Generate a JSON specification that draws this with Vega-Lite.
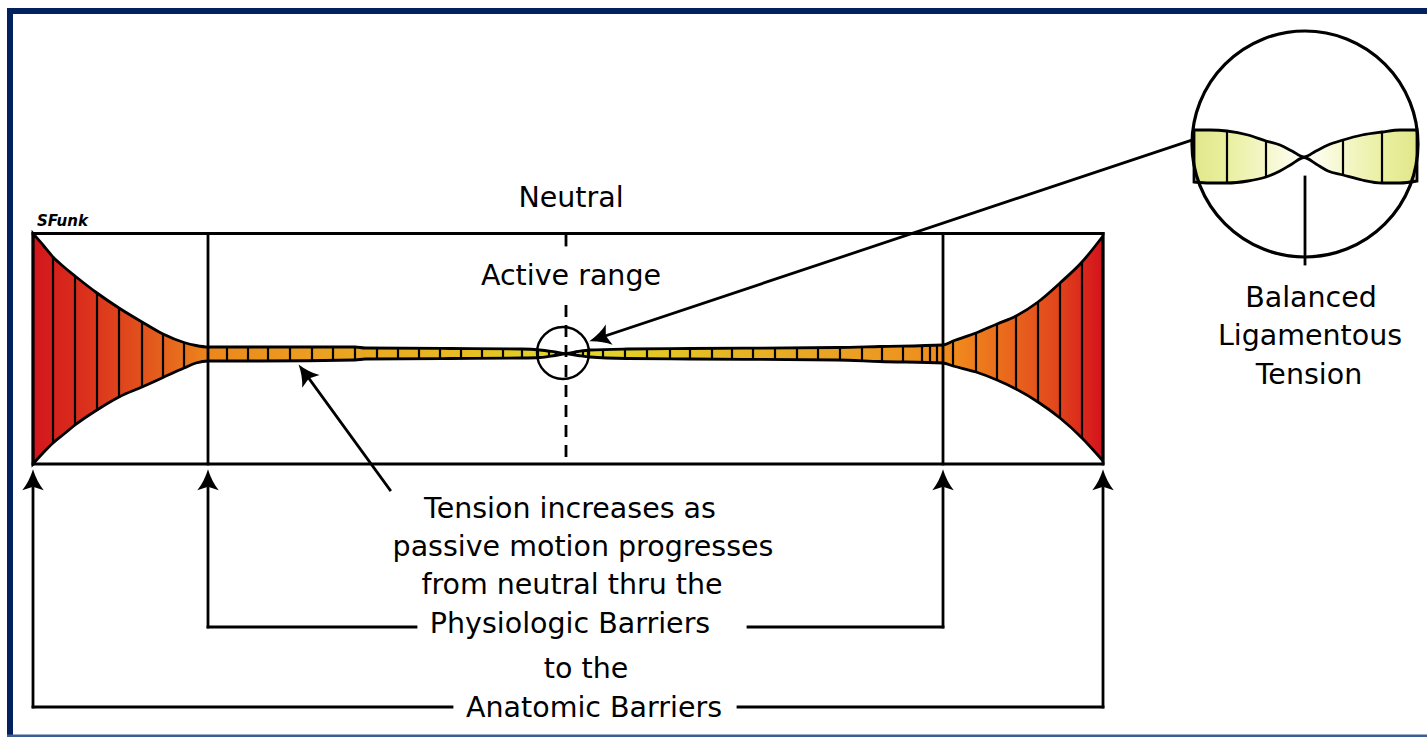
{
  "$schema": "https://vega.github.io/schema/vega-lite/v6.json",
  "width": 1427,
  "height": 737,
  "autosize": {"type": "fit", "contains": "padding"},
  "padding": 0,
  "background": "white",
  "config": {"view": {"stroke": null}},
  "datasets": {
    "navy": [
      {"x": 7, "x2": 1427, "y": 8, "y2": 14},
      {"x": 7, "x2": 13, "y": 8, "y2": 737}
    ],
    "navyBottom": [
      {"x": 7, "x2": 1427, "y": 734.5, "y2": 737}
    ],
    "band": [
      {"x": 33, "top": 233.5, "bottom": 464},
      {"x": 43, "top": 245, "bottom": 453},
      {"x": 53, "top": 257, "bottom": 443},
      {"x": 64, "top": 267, "bottom": 434},
      {"x": 75, "top": 276, "bottom": 425},
      {"x": 97, "top": 293, "bottom": 410},
      {"x": 119, "top": 308, "bottom": 397},
      {"x": 142, "top": 322, "bottom": 387},
      {"x": 163, "top": 334, "bottom": 377.5},
      {"x": 184, "top": 342.5, "bottom": 368},
      {"x": 196, "top": 345.5, "bottom": 363},
      {"x": 208, "top": 347, "bottom": 361},
      {"x": 260, "top": 347, "bottom": 361},
      {"x": 355, "top": 347, "bottom": 360},
      {"x": 365, "top": 348, "bottom": 359},
      {"x": 450, "top": 348.5, "bottom": 358.5},
      {"x": 522, "top": 349, "bottom": 358},
      {"x": 540, "top": 350, "bottom": 357.5},
      {"x": 555, "top": 352, "bottom": 355.5},
      {"x": 566, "top": 353.6, "bottom": 353.8},
      {"x": 578, "top": 351.5, "bottom": 355.5},
      {"x": 590, "top": 350, "bottom": 357},
      {"x": 627, "top": 349, "bottom": 358.5},
      {"x": 690, "top": 348.5, "bottom": 359},
      {"x": 837, "top": 347.5, "bottom": 360},
      {"x": 880, "top": 346.5, "bottom": 361.5},
      {"x": 943, "top": 345, "bottom": 363},
      {"x": 953, "top": 341, "bottom": 366},
      {"x": 976, "top": 333, "bottom": 372},
      {"x": 997, "top": 324, "bottom": 380},
      {"x": 1016, "top": 316, "bottom": 389},
      {"x": 1038, "top": 302, "bottom": 402},
      {"x": 1060, "top": 283, "bottom": 418},
      {"x": 1082, "top": 262, "bottom": 438},
      {"x": 1103, "top": 236, "bottom": 461}
    ],
    "mag": [
      {"x": 1194, "top": 130, "bottom": 182},
      {"x": 1210, "top": 130, "bottom": 183},
      {"x": 1227, "top": 131, "bottom": 183},
      {"x": 1248, "top": 135, "bottom": 181},
      {"x": 1266, "top": 141, "bottom": 177},
      {"x": 1280, "top": 145, "bottom": 171},
      {"x": 1292, "top": 151, "bottom": 164},
      {"x": 1304, "top": 157, "bottom": 157.5},
      {"x": 1316, "top": 151, "bottom": 164},
      {"x": 1328, "top": 145, "bottom": 171},
      {"x": 1343, "top": 140, "bottom": 175},
      {"x": 1362, "top": 135, "bottom": 180},
      {"x": 1382, "top": 132, "bottom": 183},
      {"x": 1400, "top": 130, "bottom": 183},
      {"x": 1417, "top": 130, "bottom": 181}
    ],
    "lines": [
      {"x": 33, "x2": 1103, "y": 233.5, "y2": 233.5},
      {"x": 33, "x2": 1103, "y": 464, "y2": 464},
      {"x": 33, "x2": 33, "y": 233.5, "y2": 464},
      {"x": 1103, "x2": 1103, "y": 233.5, "y2": 464},
      {"x": 208, "x2": 208, "y": 233.5, "y2": 464},
      {"x": 943, "x2": 943, "y": 233.5, "y2": 464},
      {"x": 566, "x2": 566, "y": 233.5, "y2": 245},
      {"x": 33, "x2": 33, "y": 488, "y2": 707},
      {"x": 33, "x2": 452, "y": 707, "y2": 707},
      {"x": 738, "x2": 1103, "y": 707, "y2": 707},
      {"x": 1103, "x2": 1103, "y": 707, "y2": 488},
      {"x": 208, "x2": 208, "y": 488, "y2": 627},
      {"x": 208, "x2": 416, "y": 627, "y2": 627},
      {"x": 748, "x2": 943, "y": 627, "y2": 627},
      {"x": 943, "x2": 943, "y": 627, "y2": 488},
      {"x": 390, "x2": 305, "y": 490, "y2": 373},
      {"x": 599, "x2": 1192, "y": 338, "y2": 140},
      {"x": 1305, "x2": 1305, "y": 177, "y2": 264}
    ],
    "dash": [
      {"x": 566, "x2": 566, "y": 305, "y2": 464}
    ],
    "dividers": [
      {"x": 53, "y": 257, "y2": 443},
      {"x": 75, "y": 276, "y2": 425},
      {"x": 97, "y": 293, "y2": 410},
      {"x": 119, "y": 308, "y2": 397},
      {"x": 142, "y": 322, "y2": 387},
      {"x": 163, "y": 334, "y2": 377.5},
      {"x": 184, "y": 342.5, "y2": 368},
      {"x": 227, "y": 347, "y2": 361},
      {"x": 248, "y": 347, "y2": 361},
      {"x": 268, "y": 347, "y2": 361},
      {"x": 290, "y": 347, "y2": 361},
      {"x": 312, "y": 347, "y2": 361},
      {"x": 333, "y": 347, "y2": 360},
      {"x": 355, "y": 347, "y2": 360},
      {"x": 377, "y": 348, "y2": 359},
      {"x": 398, "y": 348, "y2": 359},
      {"x": 419, "y": 348, "y2": 359},
      {"x": 440, "y": 348, "y2": 359},
      {"x": 461, "y": 348.5, "y2": 358.5},
      {"x": 482, "y": 348.5, "y2": 358.5},
      {"x": 503, "y": 349, "y2": 358},
      {"x": 522, "y": 349, "y2": 358},
      {"x": 538, "y": 350, "y2": 357.5},
      {"x": 549, "y": 351, "y2": 356.5},
      {"x": 556, "y": 352, "y2": 355.5},
      {"x": 575, "y": 352, "y2": 355},
      {"x": 583, "y": 351, "y2": 356},
      {"x": 588, "y": 350.5, "y2": 356.5},
      {"x": 603, "y": 349.5, "y2": 357.5},
      {"x": 625, "y": 349, "y2": 358.5},
      {"x": 647, "y": 349, "y2": 358.5},
      {"x": 670, "y": 348.5, "y2": 359},
      {"x": 690, "y": 348.5, "y2": 359},
      {"x": 712, "y": 348, "y2": 359.5},
      {"x": 732, "y": 348, "y2": 359.5},
      {"x": 753, "y": 348, "y2": 359.5},
      {"x": 775, "y": 348, "y2": 359.5},
      {"x": 797, "y": 348, "y2": 359.5},
      {"x": 818, "y": 348, "y2": 359.5},
      {"x": 840, "y": 347, "y2": 360.5},
      {"x": 862, "y": 346.5, "y2": 361},
      {"x": 882, "y": 346.5, "y2": 361.5},
      {"x": 903, "y": 346, "y2": 362},
      {"x": 922, "y": 345.5, "y2": 362.5},
      {"x": 930, "y": 345.5, "y2": 362.5},
      {"x": 937, "y": 345, "y2": 363},
      {"x": 953, "y": 341, "y2": 366},
      {"x": 976, "y": 333, "y2": 372},
      {"x": 997, "y": 324, "y2": 380},
      {"x": 1016, "y": 316, "y2": 389},
      {"x": 1038, "y": 302, "y2": 402},
      {"x": 1060, "y": 283, "y2": 418},
      {"x": 1082, "y": 262, "y2": 438},
      {"x": 1227, "y": 131, "y2": 183},
      {"x": 1266, "y": 141, "y2": 177},
      {"x": 1343, "y": 140, "y2": 175},
      {"x": 1382, "y": 132, "y2": 183}
    ],
    "smallCircle": [{"x": 563, "y": 353}],
    "bigCircle": [{"x": 1305, "y": 144}],
    "arrows": [
      {"x": 33, "y": 480, "angle": 0},
      {"x": 208, "y": 480, "angle": 0},
      {"x": 943, "y": 480, "angle": 0},
      {"x": 1103, "y": 480, "angle": 0},
      {"x": 304.9, "y": 373.1, "angle": 324},
      {"x": 599.5, "y": 337.8, "angle": 251.5}
    ],
    "labels": [
      {"text": "Neutral", "x": 571, "y": 207},
      {"text": "Active range", "x": 571, "y": 285},
      {"text": "Balanced", "x": 1311, "y": 307},
      {"text": "Ligamentous", "x": 1310, "y": 345},
      {"text": "Tension", "x": 1309, "y": 384},
      {"text": "Tension increases as", "x": 570, "y": 518},
      {"text": "passive motion progresses", "x": 583, "y": 556},
      {"text": "from neutral thru the", "x": 572, "y": 594},
      {"text": "Physiologic Barriers", "x": 570, "y": 633},
      {"text": "to the", "x": 586, "y": 678},
      {"text": "Anatomic Barriers", "x": 594, "y": 717}
    ],
    "signature": [{"text": "SFunk", "x": 37, "y": 226}]
  },
  "layer": [
    {
      "data": {"name": "navy"},
      "mark": {"type": "rect", "color": "#02215e"},
      "encoding": {
        "x": {"field": "x", "type": "quantitative", "scale": {"domain": [0, 1427], "nice": false, "zero": false}, "axis": null},
        "x2": {"field": "x2"},
        "y": {"field": "y", "type": "quantitative", "scale": {"domain": [0, 737], "nice": false, "zero": false, "reverse": true}, "axis": null},
        "y2": {"field": "y2"}
      }
    },
    {
      "data": {"name": "navyBottom"},
      "mark": {"type": "rect", "color": "#3d5d94"},
      "encoding": {
        "x": {"field": "x", "type": "quantitative"},
        "x2": {"field": "x2"},
        "y": {"field": "y", "type": "quantitative"},
        "y2": {"field": "y2"}
      }
    },
    {
      "data": {"name": "band"},
      "mark": {
        "type": "area",
        "interpolate": "monotone",
        "stroke": "#000000",
        "strokeWidth": 2.8,
        "fill": {
          "gradient": "linear", "x1": 0, "y1": 0, "x2": 1, "y2": 0,
          "stops": [
            {"offset": 0, "color": "#d2161c"},
            {"offset": 0.044, "color": "#da2e1c"},
            {"offset": 0.091, "color": "#e04a1c"},
            {"offset": 0.128, "color": "#e6661c"},
            {"offset": 0.164, "color": "#ec861c"},
            {"offset": 0.25, "color": "#eb9c20"},
            {"offset": 0.362, "color": "#e8b222"},
            {"offset": 0.455, "color": "#e4cc24"},
            {"offset": 0.498, "color": "#e6dc2a"},
            {"offset": 0.549, "color": "#e2d026"},
            {"offset": 0.658, "color": "#e6b424"},
            {"offset": 0.78, "color": "#ec9c22"},
            {"offset": 0.864, "color": "#f0881c"},
            {"offset": 0.908, "color": "#ea6a1c"},
            {"offset": 0.955, "color": "#e2481c"},
            {"offset": 1, "color": "#d4121c"}
          ]
        }
      },
      "encoding": {
        "x": {"field": "x", "type": "quantitative"},
        "y": {"field": "top", "type": "quantitative"},
        "y2": {"field": "bottom"}
      }
    },
    {
      "data": {"name": "mag"},
      "mark": {
        "type": "area",
        "interpolate": "monotone",
        "stroke": "#000000",
        "strokeWidth": 2.8,
        "fill": {
          "gradient": "linear", "x1": 0, "y1": 0, "x2": 1, "y2": 0,
          "stops": [
            {"offset": 0, "color": "#e0e78a"},
            {"offset": 0.15, "color": "#e9ef9f"},
            {"offset": 0.32, "color": "#f4f7c8"},
            {"offset": 0.47, "color": "#fefef2"},
            {"offset": 0.53, "color": "#fefef2"},
            {"offset": 0.68, "color": "#f4f7c8"},
            {"offset": 0.85, "color": "#e9ef9f"},
            {"offset": 1, "color": "#e0e78a"}
          ]
        }
      },
      "encoding": {
        "x": {"field": "x", "type": "quantitative"},
        "y": {"field": "top", "type": "quantitative"},
        "y2": {"field": "bottom"}
      }
    },
    {
      "data": {"name": "dividers"},
      "mark": {"type": "rule", "color": "#000000", "strokeWidth": 2.2},
      "encoding": {
        "x": {"field": "x", "type": "quantitative"},
        "y": {"field": "y", "type": "quantitative"},
        "y2": {"field": "y2"}
      }
    },
    {
      "data": {"name": "lines"},
      "mark": {"type": "rule", "color": "#000000", "strokeWidth": 2.8, "strokeCap": "square"},
      "encoding": {
        "x": {"field": "x", "type": "quantitative"},
        "x2": {"field": "x2"},
        "y": {"field": "y", "type": "quantitative"},
        "y2": {"field": "y2"}
      }
    },
    {
      "data": {"name": "dash"},
      "mark": {"type": "rule", "color": "#000000", "strokeWidth": 2.8, "strokeDash": [12, 8]},
      "encoding": {
        "x": {"field": "x", "type": "quantitative"},
        "x2": {"field": "x2"},
        "y": {"field": "y", "type": "quantitative"},
        "y2": {"field": "y2"}
      }
    },
    {
      "data": {"name": "smallCircle"},
      "mark": {"type": "point", "shape": "circle", "size": 2704, "filled": false, "stroke": "#000000", "strokeWidth": 2.4, "opacity": 1},
      "encoding": {
        "x": {"field": "x", "type": "quantitative"},
        "y": {"field": "y", "type": "quantitative"}
      }
    },
    {
      "data": {"name": "bigCircle"},
      "mark": {"type": "point", "shape": "circle", "size": 51076, "filled": false, "stroke": "#000000", "strokeWidth": 3.2, "opacity": 1},
      "encoding": {
        "x": {"field": "x", "type": "quantitative"},
        "y": {"field": "y", "type": "quantitative"}
      }
    },
    {
      "data": {"name": "arrows"},
      "mark": {
        "type": "point",
        "shape": "M0,-1Q0.35,0.15 1,0.95L0,0.62L-1,0.95Q-0.35,0.15 0,-1Z",
        "size": 460,
        "filled": true,
        "color": "#000000",
        "opacity": 1
      },
      "encoding": {
        "x": {"field": "x", "type": "quantitative"},
        "y": {"field": "y", "type": "quantitative"},
        "angle": {"field": "angle", "type": "quantitative", "scale": null}
      }
    },
    {
      "data": {"name": "labels"},
      "mark": {"type": "text", "font": "DejaVu Sans", "fontSize": 28.5, "color": "#000000", "align": "center", "baseline": "alphabetic"},
      "encoding": {
        "x": {"field": "x", "type": "quantitative"},
        "y": {"field": "y", "type": "quantitative"},
        "text": {"field": "text"}
      }
    },
    {
      "data": {"name": "signature"},
      "mark": {"type": "text", "font": "DejaVu Sans", "fontSize": 15, "fontStyle": "italic", "fontWeight": "bold", "color": "#000000", "align": "left", "baseline": "alphabetic"},
      "encoding": {
        "x": {"field": "x", "type": "quantitative"},
        "y": {"field": "y", "type": "quantitative"},
        "text": {"field": "text"}
      }
    }
  ]
}
